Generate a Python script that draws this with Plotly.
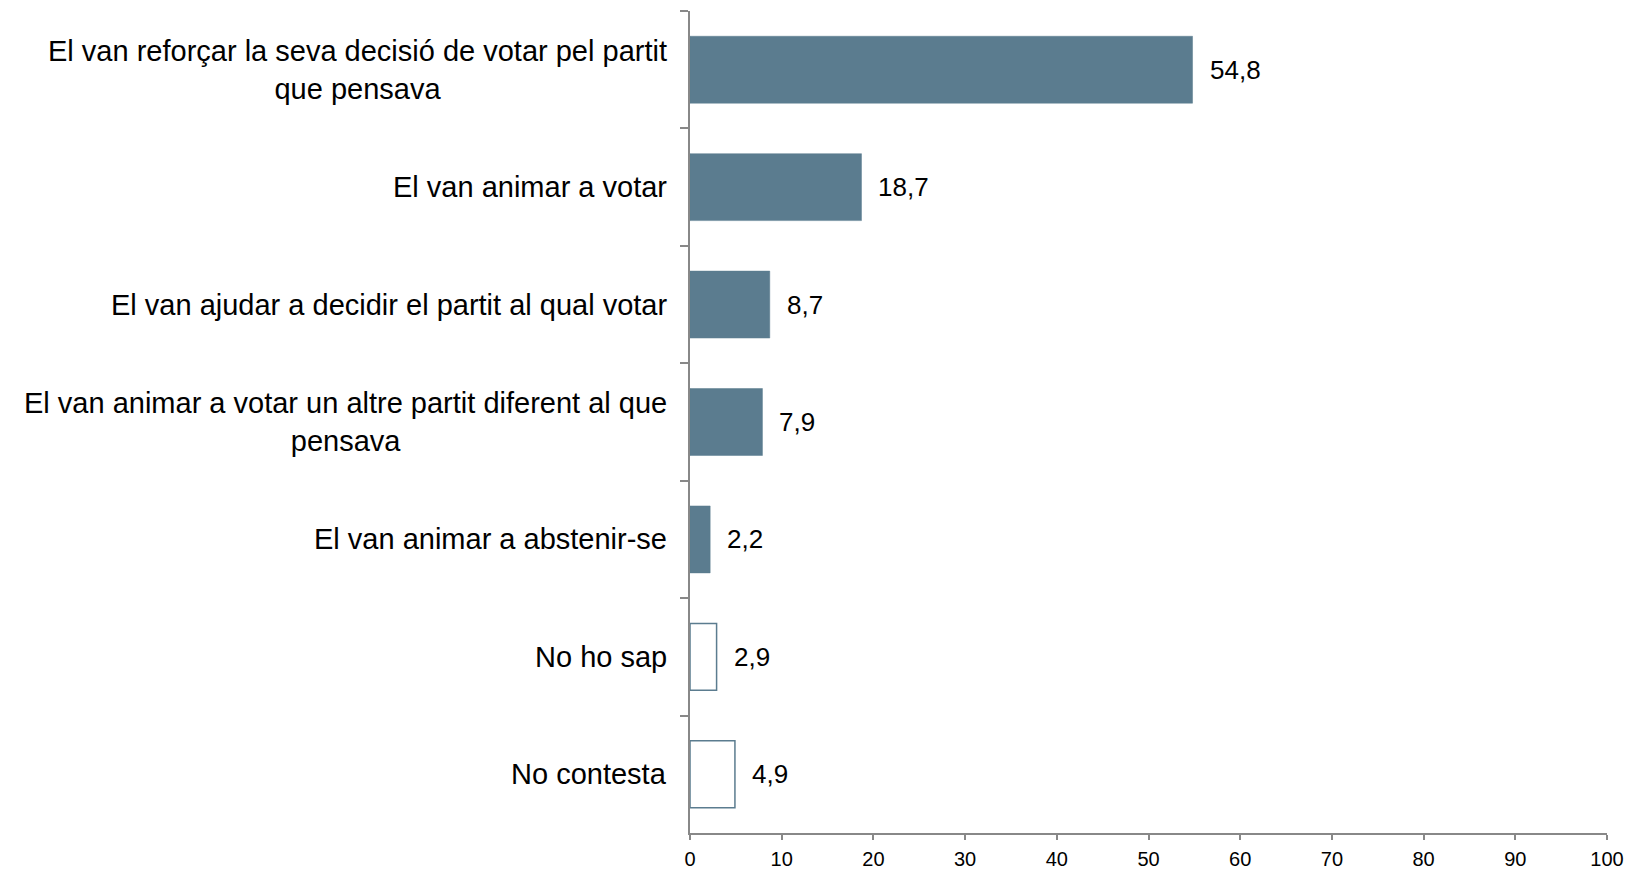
import plotly.graph_objects as go

# Survey answers, top to bottom
categories = [
    "El van reforçar la seva decisió de votar pel partit<br>que pensava",
    "El van animar a votar",
    "El van ajudar a decidir el partit al qual votar",
    "El van animar a votar un altre partit diferent al que<br>pensava",
    "El van animar a abstenir-se",
    "No ho sap",
    "No contesta",
]
values = [54.8, 18.7, 8.7, 7.9, 2.2, 2.9, 4.9]
hollow = [False, False, False, False, False, True, True]  # non-answers drawn as outlines
x_ticks = [0, 10, 20, 30, 40, 50, 60, 70, 80, 90, 100]

BLUE = "#5B7C8F"
AXIS = "#888888"
FONT = "Liberation Sans, Arial, sans-serif"

fill_colors = ["white" if h else BLUE for h in hollow]
line_widths = [1.5 if h else 0.5 for h in hollow]

fig = go.Figure(
    go.Bar(
        x=values,
        y=categories,
        orientation="h",
        marker=dict(color=fill_colors, line=dict(color=BLUE, width=line_widths)),
        hoverinfo="skip",
    )
)

# Category labels: multi-line, centred text to the left of the axis
for cat in categories:
    fig.add_annotation(
        x=0, xref="paper", y=cat, yref="y",
        text=cat, showarrow=False,
        xanchor="right", yanchor="middle", align="center",
        xshift=-21,
        font=dict(family=FONT, size=29, color="black"),
    )

# Value labels just past the end of each bar
for cat, v in zip(categories, values):
    fig.add_annotation(
        x=v, xref="x", y=cat, yref="y",
        text=f"{v:.1f}".replace(".", ","), showarrow=False,
        xanchor="left", yanchor="middle",
        xshift=15,
        font=dict(family=FONT, size=26, color="black"),
    )

fig.update_layout(
    width=1631, height=870,
    margin=dict(l=690, r=24, t=11, b=37, autoexpand=False),
    paper_bgcolor="white", plot_bgcolor="white",
    bargap=0.43,
    showlegend=False,
    separators=",.",
    font=dict(family=FONT, color="black"),
)

fig.update_xaxes(
    range=[0, 100],
    tickvals=x_ticks,
    ticks="outside", ticklen=5, tickcolor=AXIS, tickwidth=1.5,
    ticklabelstandoff=2,
    automargin=False,
    showline=True, linecolor=AXIS, linewidth=1.5,
    showgrid=False, zeroline=False,
    tickfont=dict(family=FONT, size=20, color="black"),
)

fig.update_yaxes(
    type="category",
    categoryorder="array", categoryarray=categories,
    autorange="reversed",
    tickson="boundaries",
    ticks="outside", ticklen=8, tickcolor=AXIS, tickwidth=1.5,
    showticklabels=False,
    automargin=False,
    showline=True, linecolor=AXIS, linewidth=1.5,
    showgrid=False, zeroline=False,
)

fig.write_html("out.html")
